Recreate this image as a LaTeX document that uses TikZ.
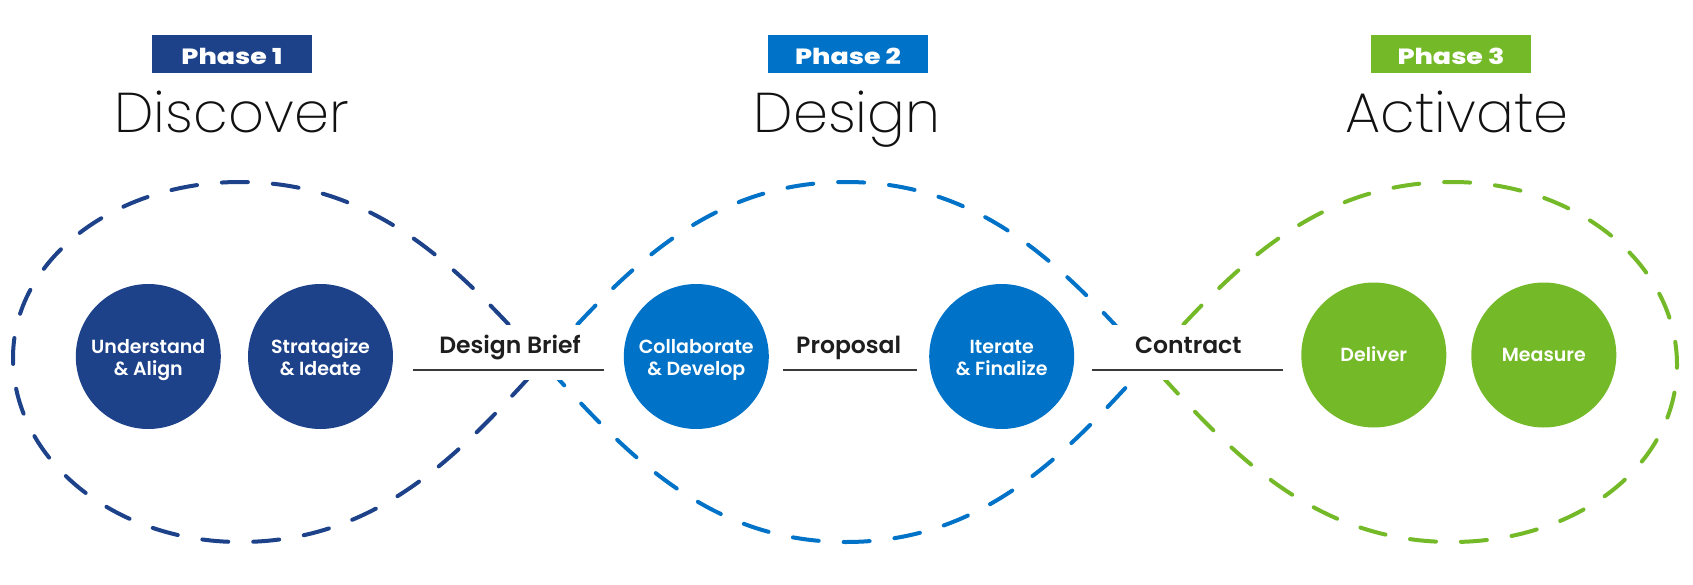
\documentclass[tikz,border=0pt]{standalone}
\usepackage{fontspec}
\setmainfont{Poppins}
\IfFontExistsTF{Poppins ExtraLight}{\newfontfamily\headfont{Poppins ExtraLight}}{%
 \IfFontExistsTF{Poppins-ExtraLight}{\newfontfamily\headfont{Poppins-ExtraLight}}{%
  \IfFontExistsTF{Poppins Light}{\newfontfamily\headfont{Poppins Light}}{%
   \IfFontExistsTF{Lato Light}{\newfontfamily\headfont{Lato Light}}{%
    \IfFontExistsTF{Fira Sans Light}{\newfontfamily\headfont{Fira Sans Light}}{%
     \IfFontExistsTF{Open Sans Light}{\newfontfamily\headfont{Open Sans Light}}{%
      \newfontfamily\headfont{Poppins}}}}}}}
\IfFontExistsTF{Poppins SemiBold}{\newfontfamily\labfont{Poppins SemiBold}}{%
 \IfFontExistsTF{Poppins-SemiBold}{\newfontfamily\labfont{Poppins-SemiBold}}{%
  \IfFontExistsTF{Poppins Medium}{\newfontfamily\labfont{Poppins Medium}[FakeBold=0.8]}{%
   \newfontfamily\labfont{Poppins}[FakeBold=1.2]}}}
\IfFontExistsTF{Poppins ExtraBold}{\newfontfamily\phfont{Poppins ExtraBold}[FakeStretch=1.22]}{%
 \IfFontExistsTF{Poppins-ExtraBold}{\newfontfamily\phfont{Poppins-ExtraBold}[FakeStretch=1.22]}{%
  \IfFontExistsTF{Poppins Black}{\newfontfamily\phfont{Poppins Black}[FakeStretch=1.22]}{%
   \newfontfamily\phfont{Poppins Bold}[FakeBold=1.5,FakeStretch=1.22]}}}
\definecolor{dblue}{HTML}{1D428A}
\definecolor{mblue}{HTML}{0073C8}
\definecolor{lgreen}{HTML}{74B928}
\definecolor{txt}{HTML}{1E1E1E}
\definecolor{headtxt}{HTML}{111111}
\definecolor{linegray}{HTML}{3A3A3A}
\begin{document}
\begin{tikzpicture}[x=1pt,y=-1pt,
  loopline/.style={line width=4pt, dash pattern=on 26pt off 25pt, line cap=round},
  circ/.style={circle, fill=#1, minimum size=145pt, inner sep=0pt, text=white,
    font=\labfont\fontsize{19}{21.7}\selectfont, align=center},
  phasebox/.style={fill=#1, minimum width=160pt, minimum height=38pt, inner sep=0pt,
    text=white, font=\phfont\fontsize{22}{26}\selectfont, text height=25pt, text depth=3.6pt},
  heading/.style={anchor=base, font=\headfont\fontsize{56}{62}\selectfont, text=headtxt, inner sep=0pt},
  lab/.style={anchor=base, font=\labfont\fontsize{23.5}{26}\selectfont, text=txt, inner sep=0pt},
  uline/.style={line width=1.8pt, draw=linegray},
  labmask/.style={fill=white, draw=none}]
\useasboundingbox (0,0) rectangle (1693,585);
\fill[white] (0,0) rectangle (1693,585);

% crossing points
\coordinate (x1) at (543,362);
\coordinate (x2) at (1149,362);

% dashed loops
\draw[loopline, dblue] (x1) .. controls (462.6,273.2) and (380,182) .. (240,182)
  .. controls (114.6,182) and (13,259.5) .. (13,358)
  .. controls (13,459.6) and (114.6,542) .. (240,542)
  .. controls (380,542) and (462.6,450.8) .. (x1);
\draw[loopline, mblue] (x1) .. controls (623.4,273.2) and (706,182) .. (846,182)
  .. controls (986,182) and (1068.6,273.2) .. (x2)
  .. controls (1068.6,450.8) and (986,542) .. (846,542)
  .. controls (706,542) and (623.4,450.8) .. (x1);
\draw[loopline, lgreen] (x2) .. controls (1229.4,273.2) and (1312,182) .. (1452,182)
  .. controls (1576.3,182) and (1677,264) .. (1677,365)
  .. controls (1677,466) and (1576.3,542) .. (1452,542)
  .. controls (1312,542) and (1229.4,450.8) .. (x2);

% label backgrounds
\fill[labmask] (410,325) rectangle (606,380);
\fill[labmask] (1089,325) rectangle (1285,380);

% phase boxes and headings
\node[phasebox=dblue] (p1) at (232,54.3) {Phase 1};
\node[phasebox=mblue] (p2) at (848,54.3) {Phase 2};
\node[phasebox=lgreen] (p3) at (1451,54.3) {Phase 3};
\node[heading] (h1) at (231.5,133) {Discover};
\node[heading] (h2) at (847,133) {Design};
\node[heading] (h3) at (1457,133) {Activate};

% circles
\node[circ=dblue] (c1) at (148.3,356.5) {\rule{0pt}{20.8pt}Understand\\\& Align\rule[-5.5pt]{0pt}{0pt}};
\node[circ=dblue] (c2) at (320.5,356.5) {\rule{0pt}{20.8pt}Stratagize\\\& Ideate\rule[-5.5pt]{0pt}{0pt}};
\node[circ=mblue] (c3) at (696.3,356.5) {\rule{0pt}{20.8pt}Collaborate\\\& Develop\rule[-5.5pt]{0pt}{0pt}};
\node[circ=mblue] (c4) at (1001.7,356.5) {\rule{0pt}{20.8pt}Iterate\\\& Finalize\rule[-5.5pt]{0pt}{0pt}};
\node[circ=lgreen] (c5) at (1373.8,355) {\rule{0pt}{18.5pt}Deliver\rule[-5.5pt]{0pt}{0pt}};
\node[circ=lgreen] (c6) at (1543.8,355) {\rule{0pt}{18.5pt}Measure\rule[-5.5pt]{0pt}{0pt}};

% underline connectors
\coordinate (l1a) at (412.7,370.3); \coordinate (l1b) at (604.3,370.3);
\coordinate (l2a) at (782.7,370.3); \coordinate (l2b) at (917.3,370.3);
\coordinate (l3a) at (1091.7,370.3); \coordinate (l3b) at (1283.3,370.3);
\draw[uline] (l1a) -- (l1b);
\draw[uline] (l2a) -- (l2b);
\draw[uline] (l3a) -- (l3b);

% labels
\node[lab] (t1) at (510,353.3) {Design Brief};
\node[lab] (t2) at (848.7,353.3) {Proposal};
\node[lab] (t3) at (1188.3,353.3) {Contract};
\end{tikzpicture}
\end{document}
